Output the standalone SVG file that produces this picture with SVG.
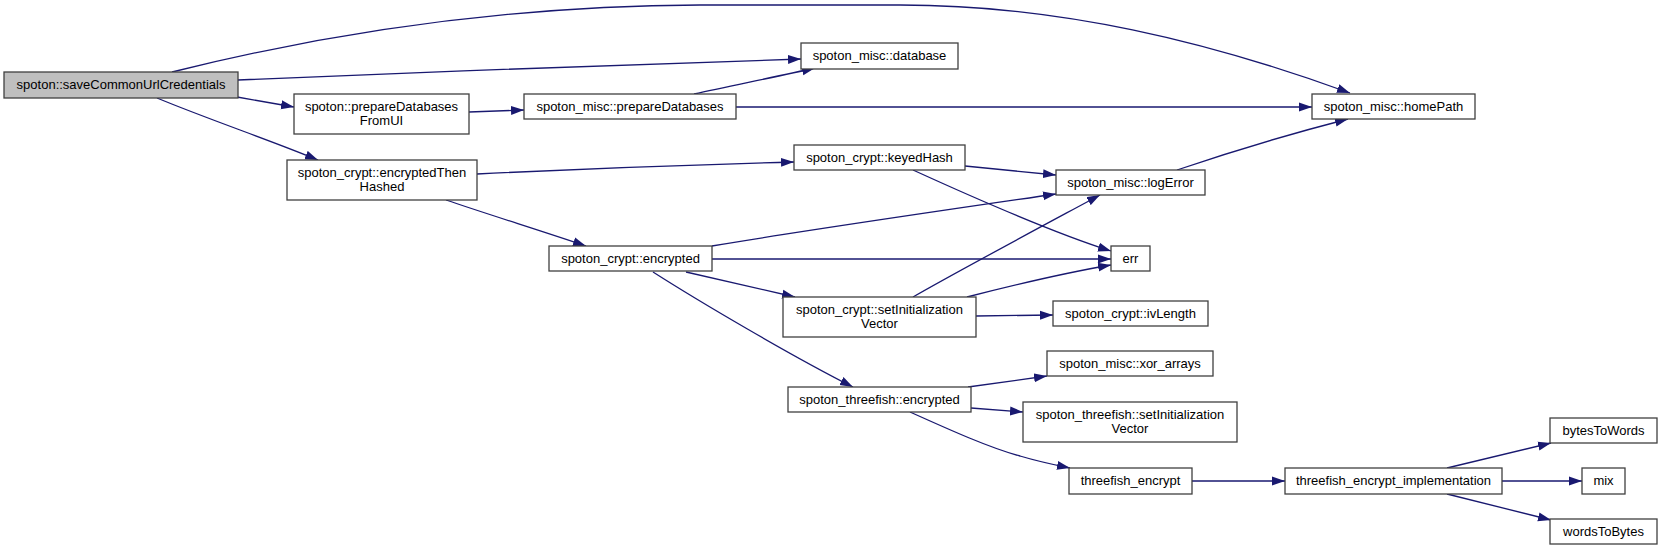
<svg xmlns="http://www.w3.org/2000/svg" width="1663" height="551" viewBox="0 0 1663 551">
<style>
.n rect{fill:#ffffff;stroke:#404040;stroke-width:1.3}
.n.start rect{fill:#bfbfbf}
.n text{font-family:"Liberation Sans",Arial,sans-serif;font-size:13px;fill:#000;text-anchor:middle}
#edges path{fill:none;stroke:#191970;stroke-width:1.3;marker-end:url(#ah)}
</style>
<defs>
<marker id="ah" markerWidth="14" markerHeight="10" refX="13" refY="5" orient="auto" markerUnits="userSpaceOnUse">
<path d="M0,0.5 L13,5 L0,9.5 z" fill="#191970" stroke="none"/>
</marker>
</defs>
<rect width="1663" height="551" fill="#ffffff"/>
<g id="edges">
<path d="M172,72 C300,40 480,6 700,5 L900,5 C1060,5 1210,42 1350,93"/>
<path d="M238,80 C420,72 640,64 801,59"/>
<path d="M237,97 L294,107"/>
<path d="M157,98 C210,120 270,140 318,160"/>
<path d="M469,112 L524,110"/>
<path d="M694,94 C730,86 780,76 815,68"/>
<path d="M736,107 L1312,107"/>
<path d="M477,174 C600,168 720,164 794,162"/>
<path d="M446,200 C490,215 545,232 586,246"/>
<path d="M965,166 L1056,175"/>
<path d="M913,170 C970,196 1060,235 1111,251"/>
<path d="M1177,170 C1230,152 1290,134 1348,119"/>
<path d="M712,246 C820,228 960,208 1056,194"/>
<path d="M712,259 L1111,259"/>
<path d="M686,272 L795,297"/>
<path d="M653,272 C700,302 790,355 853,387"/>
<path d="M913,297 C960,270 1050,222 1100,195"/>
<path d="M967,297 C1010,286 1070,272 1111,265"/>
<path d="M976,316 L1053,315"/>
<path d="M968,387 L1047,376"/>
<path d="M971,408 L1023,412"/>
<path d="M910,412 C950,430 990,448 1020,456 C1040,462 1055,465 1070,468"/>
<path d="M1192,481 L1285,481"/>
<path d="M1447,468 L1551,443"/>
<path d="M1502,481 L1582,481"/>
<path d="M1447,494 L1551,520"/>
</g>
<g id="node_save" class="n start"><rect x="4" y="72" width="234" height="26"/><text x="121" y="89">spoton::saveCommonUrlCredentials</text></g>
<g id="node_prepareDatabasesFromUI" class="n"><rect x="294" y="94" width="175" height="40"/><text x="381.5" y="111">spoton::prepareDatabases</text><text x="381.5" y="125">FromUI</text></g>
<g id="node_encryptedThenHashed" class="n"><rect x="287" y="160" width="190" height="40"/><text x="382" y="177">spoton_crypt::encryptedThen</text><text x="382" y="191">Hashed</text></g>
<g id="node_misc_prepareDatabases" class="n"><rect x="524" y="94" width="212" height="25"/><text x="630" y="111">spoton_misc::prepareDatabases</text></g>
<g id="node_database" class="n"><rect x="801" y="43" width="157" height="26"/><text x="879.5" y="60">spoton_misc::database</text></g>
<g id="node_homePath" class="n"><rect x="1312" y="94" width="163" height="25"/><text x="1393.5" y="111">spoton_misc::homePath</text></g>
<g id="node_keyedHash" class="n"><rect x="794" y="145" width="171" height="25"/><text x="879.5" y="162">spoton_crypt::keyedHash</text></g>
<g id="node_logError" class="n"><rect x="1056" y="170" width="149" height="25"/><text x="1130.5" y="187">spoton_misc::logError</text></g>
<g id="node_encrypted" class="n"><rect x="549" y="246" width="163" height="25"/><text x="630.5" y="263">spoton_crypt::encrypted</text></g>
<g id="node_err" class="n"><rect x="1111" y="246" width="39" height="25"/><text x="1130.5" y="263">err</text></g>
<g id="node_setIV" class="n"><rect x="783" y="297" width="193" height="40"/><text x="879.5" y="314">spoton_crypt::setInitialization</text><text x="879.5" y="328">Vector</text></g>
<g id="node_ivLength" class="n"><rect x="1053" y="301" width="155" height="25"/><text x="1130.5" y="318">spoton_crypt::ivLength</text></g>
<g id="node_xor_arrays" class="n"><rect x="1047" y="351" width="166" height="25"/><text x="1130" y="368">spoton_misc::xor_arrays</text></g>
<g id="node_tf_encrypted" class="n"><rect x="788" y="387" width="183" height="25"/><text x="879.5" y="404">spoton_threefish::encrypted</text></g>
<g id="node_tf_setIV" class="n"><rect x="1023" y="402" width="214" height="40"/><text x="1130" y="419">spoton_threefish::setInitialization</text><text x="1130" y="433">Vector</text></g>
<g id="node_threefish_encrypt" class="n"><rect x="1069" y="468" width="123" height="26"/><text x="1130.5" y="485">threefish_encrypt</text></g>
<g id="node_impl" class="n"><rect x="1285" y="468" width="217" height="26"/><text x="1393.5" y="485">threefish_encrypt_implementation</text></g>
<g id="node_bytesToWords" class="n"><rect x="1550" y="418" width="107" height="25"/><text x="1603.5" y="435">bytesToWords</text></g>
<g id="node_mix" class="n"><rect x="1582" y="468" width="43" height="26"/><text x="1603.5" y="485">mix</text></g>
<g id="node_wordsToBytes" class="n"><rect x="1550" y="519" width="107" height="25"/><text x="1603.5" y="536">wordsToBytes</text></g>
</svg>
